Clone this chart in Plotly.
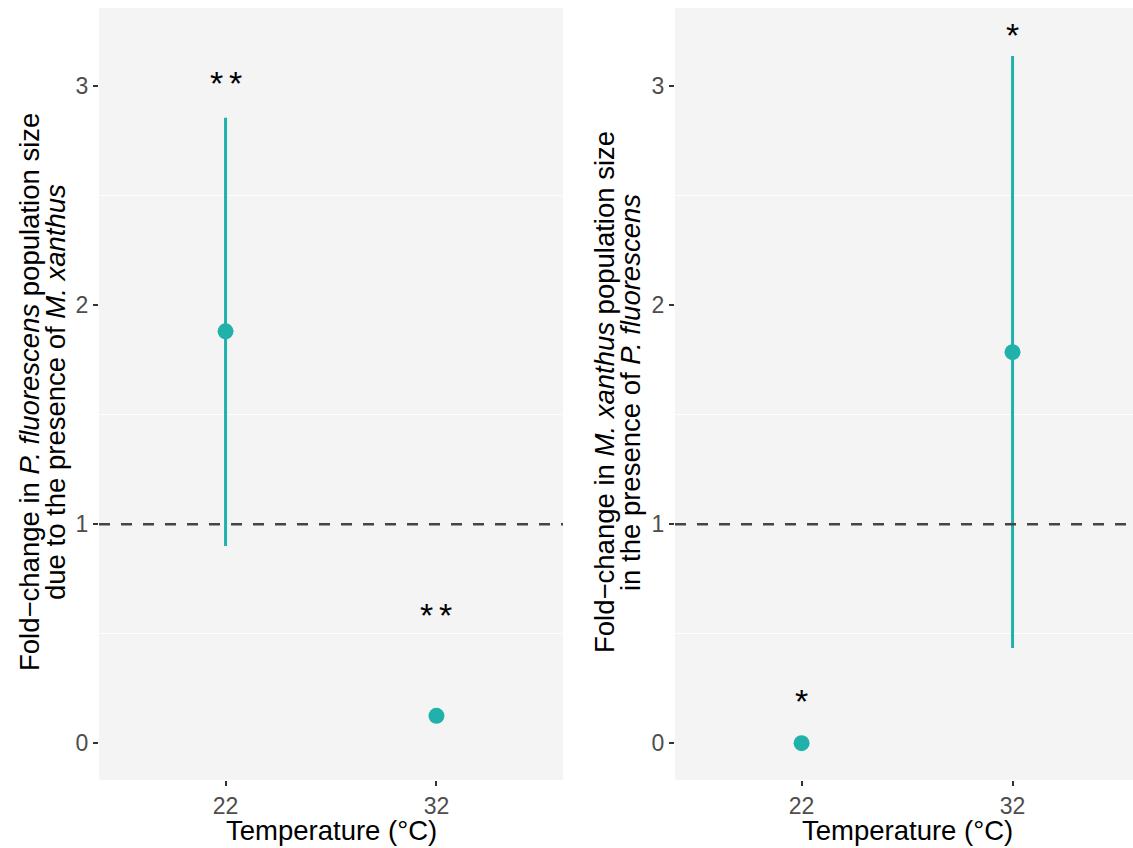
import plotly.graph_objects as go

W, H = 1133, 848
TEAL = "#20B2AA"

temps = ["22", "32"]
# Left panel: P. fluorescens fold-change
left_mean = [1.88, 0.125]
left_lo = [0.90, 0.11]
left_hi = [2.855, 0.14]
left_sig = ["*\u2006*", "*\u2006*"]
left_sig_y = [3.00, 0.57]

# Right panel: M. xanthus fold-change
right_mean = [0.0, 1.785]
right_lo = [0.0, 0.435]
right_hi = [0.01, 3.137]
right_sig = ["*", "*"]
right_sig_y = [0.18, 3.22]

yrange = [-0.168, 3.356]

fig = go.Figure()

def add_panel(xa, ya, mean, lo, hi, sig, sig_y):
    fig.add_trace(go.Scatter(
        x=[1, 2], y=mean, mode="markers",
        marker=dict(color=TEAL, size=16),
        error_y=dict(type="data", symmetric=False,
                     array=[h - m for h, m in zip(hi, mean)],
                     arrayminus=[m - l for m, l in zip(mean, lo)],
                     color=TEAL, thickness=3, width=0),
        xaxis=xa, yaxis=ya, showlegend=False, hoverinfo="skip"))
    for xi, t, yv in zip([1, 2], sig, sig_y):
        fig.add_annotation(x=xi, y=yv, xref=xa, yref=ya, text=t, showarrow=False,
                           font=dict(family="Liberation Sans, Arial", size=34, color="black"),
                           yanchor="middle", yshift=3)
    fig.add_shape(type="line", xref=f"{xa} domain", yref=ya, x0=0, x1=1, y0=1, y1=1,
                  line=dict(color="#444444", width=2.5, dash="11px,11px"), layer="above")

add_panel("x", "y", left_mean, left_lo, left_hi, left_sig, left_sig_y)
add_panel("x2", "y2", right_mean, right_lo, right_hi, right_sig, right_sig_y)

tick_font = dict(family="Liberation Sans, Arial", size=23, color="#4D4D4D")
ax_common = dict(
    tickvals=[1, 2], ticktext=temps, showgrid=False, zeroline=False,
    ticks="outside", ticklen=5, tickwidth=2, tickcolor="#333333",
    tickfont=tick_font, showline=False, fixedrange=True)
ay_common = dict(
    range=yrange, tickvals=[0, 1, 2, 3], showgrid=False, zeroline=False,
    ticks="outside", ticklen=5, tickwidth=2, tickcolor="#333333",
    tickfont=tick_font,
    minor=dict(tick0=0.5, dtick=1, showgrid=True, gridcolor="white", gridwidth=1.2, ticks=""),
    showline=False, fixedrange=True)

yd = [1 - 780 / H, 1 - 8 / H]
fig.update_layout(
    width=W, height=H,
    margin=dict(l=0, r=0, t=0, b=0),
    paper_bgcolor="white", plot_bgcolor="#F4F4F4",
    xaxis=dict(domain=[99 / W, 563 / W], anchor="y", range=[0.4, 2.6], **ax_common),
    yaxis=dict(domain=yd, anchor="x", **ay_common),
    xaxis2=dict(domain=[675 / W, 1.0], anchor="y2", range=[0.4, 2.571], **ax_common),
    yaxis2=dict(domain=yd, anchor="x2", **ay_common),
    font=dict(family="Liberation Sans, Arial"),
)

title_font = dict(family="Liberation Sans, Arial", size=27.5, color="black")

def xtitle(cx):
    fig.add_annotation(x=cx / W, y=1 - 830 / H, xref="paper", yref="paper",
                       text="Temperature (°C)", showarrow=False, font=title_font,
                       xanchor="center", yanchor="middle")

def ytitle(cx1, cx2, l1, l2):
    for cx, t in [(cx1, l1), (cx2, l2)]:
        fig.add_annotation(x=cx / W, y=1 - 392 / H, xref="paper", yref="paper",
                           text=t, showarrow=False, font=title_font, textangle=-90,
                           xanchor="center", yanchor="middle")

xtitle(331)
xtitle(907)
ytitle(29, 55, "Fold\u2212change in <i>P. fluorescens</i> population size",
       "due to the presence of <i>M. xanthus</i>")
ytitle(604, 630, "Fold\u2212change in <i>M. xanthus</i> population size",
       "in the presence of <i>P. fluorescens</i>")

fig.write_html("out.html")
